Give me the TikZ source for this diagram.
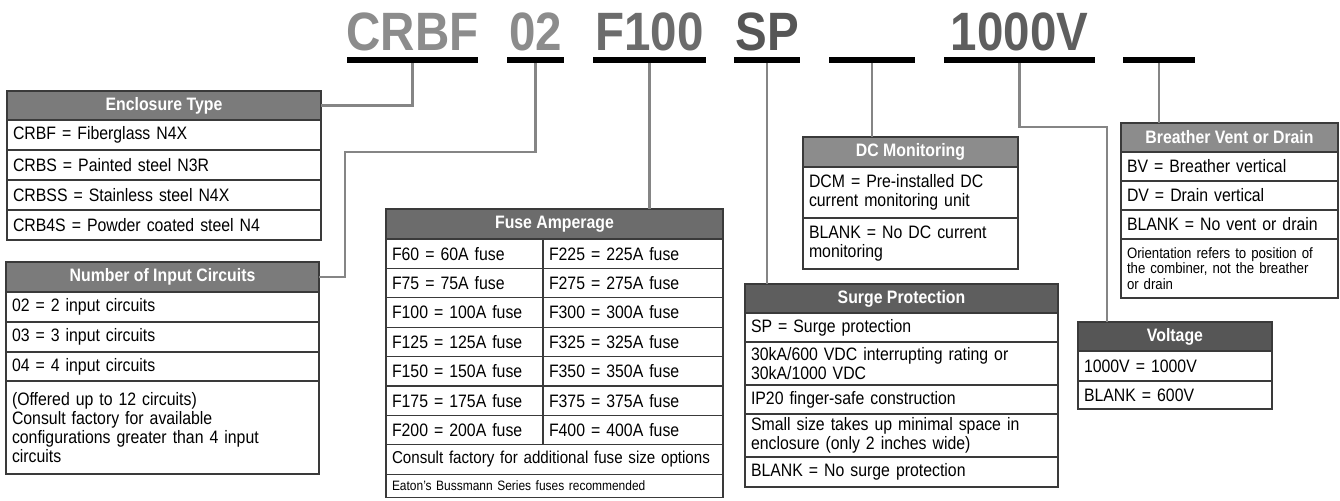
\documentclass[tikz,border=0pt]{standalone}
\usepackage{fontspec}
\setmainfont{Liberation Sans}[FakeStretch=0.88]
\usetikzlibrary{positioning}
\definecolor{hdrlight}{HTML}{8C8C8C}
\definecolor{hdrmid}{HTML}{7B7B7B}
\definecolor{hdrdark}{HTML}{6C6C6C}
\definecolor{hdrdeep}{HTML}{5E5E5E}
\definecolor{hdrblack}{HTML}{565656}
\definecolor{linkgrey}{HTML}{858585}
\definecolor{boxline}{HTML}{3A3A3A}

\begin{document}
\begin{tikzpicture}[
    x=0.5pt, y=-0.5pt,
    every node/.style={font=\fontsize{9}{9.6}\selectfont},
    hdr/.style={draw=boxline, line width=0.6pt, fill=#1, text=white, font=\fontsize{9}{9.6}\selectfont\bfseries, inner sep=0pt, outer sep=0pt, minimum height=14.7pt},
    cell/.style={draw=boxline, line width=0.6pt, fill=white, text width=#1, inner xsep=3pt, inner ysep=0pt, outer sep=0pt, align=left, minimum height=14.7pt},
    small/.style={font=\fontsize{7.5}{7.9}\selectfont},
    code/.style={font=\fontsize{27}{27}\selectfont\bfseries, text=#1, anchor=base, inner sep=0pt},
    bar/.style={fill=black, minimum width=#1, minimum height=2.8pt, inner sep=0pt, outer sep=0pt},
    link/.style={draw=linkgrey, line width=1.2pt}
]
\useasboundingbox (0,0) rectangle (1340,500);

% catalog code
\node[code=hdrlight] (tCRBF) at (412.5,50) {CRBF};
\node[code=hdrlight] (t02) at (535.5,50) {02};
\node[code=hdrdark] (tF100) at (649.5,50) {F100};
\node[code=hdrblack] (tSP) at (767,50) {SP};
\node[code=hdrdeep] (t1000V) at (1019.5,50) {1000V};
\node[bar=65.5pt] (u1) at (412.5,60) {};
\node[bar=28.5pt] (u2) at (535.5,60) {};
\node[bar=56.5pt] (u3) at (649.5,60) {};
\node[bar=33pt] (u4) at (767,60) {};
\node[bar=43pt] (u5) at (872,60) {};
\node[bar=75.5pt] (u6) at (1019.5,60) {};
\node[bar=36pt] (u7) at (1159,60) {};

% enclosure type
\node[hdr=hdrmid, minimum width=157pt, minimum height=14.5pt, anchor=north west] (encH) at (7,91) {Enclosure Type};
\node[cell=151pt, minimum height=15pt, below=0pt of encH] (enc1) {CRBF = Fiberglass N4X};
\node[cell=151pt, minimum height=15pt, below=0pt of enc1] (enc2) {CRBS = Painted steel N3R};
\node[cell=151pt, minimum height=15pt, below=0pt of enc2] (enc3) {CRBSS = Stainless steel N4X};
\node[cell=151pt, minimum height=15pt, below=0pt of enc3] (enc4) {CRB4S = Powder coated steel N4};

% number of input circuits
\node[hdr=hdrmid, minimum width=156.5pt, minimum height=15pt, anchor=north west] (numH) at (6,262) {Number of Input Circuits};
\node[cell=150.5pt, minimum height=15pt, below=0pt of numH] (num1) {02 = 2 input circuits};
\node[cell=150.5pt, minimum height=15pt, below=0pt of num1] (num2) {03 = 3 input circuits};
\node[cell=150.5pt, minimum height=14.5pt, below=0pt of num2] (num3) {04 = 4 input circuits};
\node[cell=150.5pt, minimum height=46.5pt, below=0pt of num3] (num4) {(Offered up to 12 circuits)\\Consult factory for available\\configurations greater than 4 input\\circuits};

% fuse amperage
\node[hdr=hdrdark, minimum width=168.5pt, minimum height=15pt, anchor=north west] (fuseH) at (386,209) {Fuse Amperage};
\node[cell=72.5pt, anchor=north west] (fa1) at (fuseH.south west) {F60 = 60A fuse};
\node[cell=84pt, right=0pt of fa1] (fb1) {F225 = 225A fuse};
\node[cell=72.5pt, below=0pt of fa1] (fa2) {F75 = 75A fuse};
\node[cell=84pt, right=0pt of fa2] (fb2) {F275 = 275A fuse};
\node[cell=72.5pt, below=0pt of fa2] (fa3) {F100 = 100A fuse};
\node[cell=84pt, right=0pt of fa3] (fb3) {F300 = 300A fuse};
\node[cell=72.5pt, below=0pt of fa3] (fa4) {F125 = 125A fuse};
\node[cell=84pt, right=0pt of fa4] (fb4) {F325 = 325A fuse};
\node[cell=72.5pt, below=0pt of fa4] (fa5) {F150 = 150A fuse};
\node[cell=84pt, right=0pt of fa5] (fb5) {F350 = 350A fuse};
\node[cell=72.5pt, below=0pt of fa5] (fa6) {F175 = 175A fuse};
\node[cell=84pt, right=0pt of fa6] (fb6) {F375 = 375A fuse};
\node[cell=72.5pt, below=0pt of fa6] (fa7) {F200 = 200A fuse};
\node[cell=84pt, right=0pt of fa7] (fb7) {F400 = 400A fuse};
\node[cell=162.5pt, font=\fontsize{8.6}{9}\selectfont, anchor=north west] (fcons) at (fa7.south west) {Consult factory for additional fuse size options};
\node[cell=162.5pt, font=\fontsize{6.8}{7}\selectfont, minimum height=11.5pt, below=0pt of fcons] (featon) {Eaton's Bussmann Series fuses recommended};

% surge protection
\node[hdr=hdrdeep, minimum width=156.5pt, minimum height=14.5pt, anchor=north west] (surgeH) at (745,284) {Surge Protection};
\node[cell=150.5pt, minimum height=14.5pt, below=0pt of surgeH] (sp1) {SP = Surge protection};
\node[cell=150.5pt, minimum height=21.5pt, below=0pt of sp1] (sp2) {30kA/600 VDC interrupting rating or\\30kA/1000 VDC};
\node[cell=150.5pt, minimum height=14.5pt, below=0pt of sp2] (sp3) {IP20 finger-safe construction};
\node[cell=150.5pt, minimum height=21.5pt, below=0pt of sp3] (sp4) {Small size takes up minimal space in\\enclosure (only 2 inches wide)};
\node[cell=150.5pt, minimum height=15pt, below=0pt of sp4] (sp5) {BLANK = No surge protection};

% dc monitoring
\node[hdr=hdrlight, minimum width=107.5pt, minimum height=15pt, anchor=north west] (dcH) at (803,137) {DC Monitoring};
\node[cell=101.5pt, minimum height=25.5pt, below=0pt of dcH] (dc1) {DCM = Pre-installed DC\\current monitoring unit};
\node[cell=101.5pt, minimum height=25.5pt, below=0pt of dc1] (dc2) {BLANK = No DC current\\monitoring};

% breather vent or drain
\node[hdr=hdrlight, minimum width=108.5pt, minimum height=14.5pt, anchor=north west] (brH) at (1121,123) {Breather Vent or Drain};
\node[cell=102.5pt, minimum height=14.5pt, below=0pt of brH] (br1) {BV = Breather vertical};
\node[cell=102.5pt, minimum height=14.5pt, below=0pt of br1] (br2) {DV = Drain vertical};
\node[cell=102.5pt, minimum height=14.5pt, below=0pt of br2] (br3) {BLANK = No vent or drain};
\node[cell=102.5pt, small, minimum height=29.5pt, below=0pt of br3] (br4) {Orientation refers to position of\\the combiner, not the breather\\or drain};

% voltage
\node[hdr=hdrblack, minimum width=97pt, minimum height=14.5pt, anchor=north west] (voltH) at (1078,322) {Voltage};
\node[cell=91pt, minimum height=15pt, below=0pt of voltH] (v1) {1000V = 1000V};
\node[cell=91pt, minimum height=14pt, below=0pt of v1] (v2) {BLANK = 600V};

% connectors
\coordinate (b2) at (345,152);
\coordinate (b6) at (1107,127);
\draw[link] (encH.east) -| (u1.south);
\draw[link] (u2.south) |- (b2) |- (numH.east);
\draw[link] (u3.south) -- (u3.south |- fuseH.north);
\draw[link] (u4.south) -- (u4.south |- surgeH.north);
\draw[link] (u5.south) -- (u5.south |- dcH.north);
\draw[link] (u6.south) |- (b6) -- (b6 |- voltH.north);
\draw[link] (u7.south) -- (u7.south |- brH.north);
\end{tikzpicture}
\end{document}
